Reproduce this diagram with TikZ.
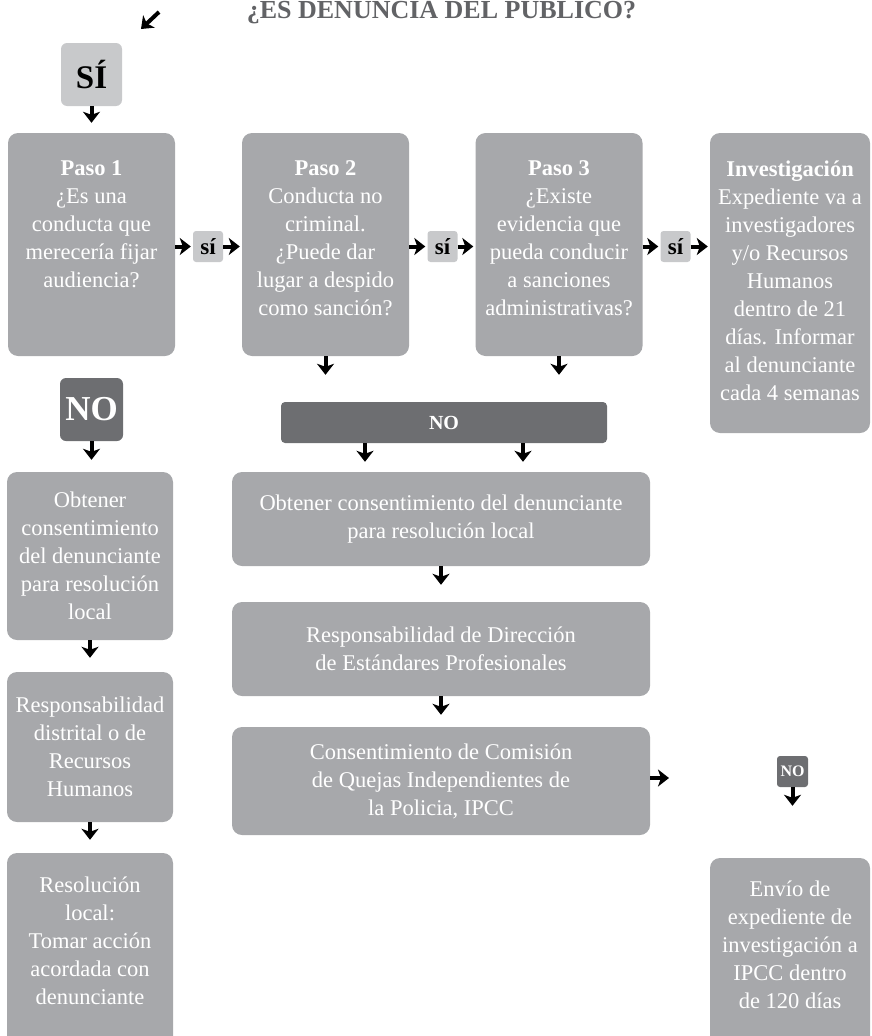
\documentclass[tikz,border=0pt]{standalone}
\usepackage{fontspec}
\setmainfont{Liberation Serif}
\usetikzlibrary{arrows.meta,calc}

\definecolor{boxgray}{RGB}{167,168,171}
\definecolor{sigray}{RGB}{200,201,203}
\definecolor{nogray}{RGB}{109,110,113}
\definecolor{titlegray}{RGB}{98,99,102}

\newcommand{\boxfont}{\fontsize{22.5}{28}\selectfont}
\newcommand{\stepcontent}[4]{\parbox[c][#2][t]{#1}{\centering\vspace*{#3}#4}}

\tikzset{
  stepbox/.style={fill=boxgray, rounded corners=10pt, inner sep=0pt, text=white, font=\boxfont, align=center},
  sitag/.style={fill=sigray, rounded corners=3pt, minimum width=30pt, minimum height=31pt, inner sep=0pt, font=\fontsize{23}{24}\selectfont\bfseries},
  notag/.style={fill=nogray, inner sep=0pt, text=white, font=\bfseries},
  arr/.style={-{Stealth[length=11pt,width=17pt,inset=3pt]}, line width=4pt}
}

\begin{document}
\begin{tikzpicture}[x=1pt,y=1pt,yscale=-1,xscale=1]
        \useasboundingbox (0,0) rectangle (871,1036);
        \clip (0,0) rectangle (871,1036);

        % cabecera
        \node (titulo) at (441.5,19) [anchor=base, text=titlegray, font=\fontsize{26}{30}\selectfont\bfseries] {¿ES DENUNCIA DEL PÚBLICO?};
        \coordinate (flechaA) at (159,12);
        \coordinate (flechaB) at (141,29);
        \node (si) at (91.5,74.5) [sitag, rounded corners=6pt, minimum width=61pt, minimum height=63pt, font=\fontsize{33}{36}\selectfont\bfseries] {SÍ};

        % pasos
        \node (paso1) at (91.5,244.5) [stepbox] {\stepcontent{167pt}{223pt}{28pt}{\textbf{Paso 1}\\¿Es una\\conducta que\\merecería fijar\\audiencia?}};
        \node (si1) at (208,246.5) [sitag] {sí};
        \node (paso2) at (325.5,244.5) [stepbox] {\stepcontent{167pt}{223pt}{28pt}{\textbf{Paso 2}\\Conducta no\\criminal.\\¿Puede dar\\lugar a despido\\como sanción?}};
        \node (si2) at (442.5,246.5) [sitag] {sí};
        \node (paso3) at (559,244.5) [stepbox] {\stepcontent{167pt}{223pt}{28pt}{\textbf{Paso 3}\\¿Existe\\evidencia que\\pueda conducir\\a sanciones\\administrativas?}};
        \node (si3) at (675.5,246.5) [sitag] {sí};
        \node (invest) at (790,283) [stepbox] {\stepcontent{160pt}{300pt}{28pt}{\textbf{Investigación}\\Expediente va a\\investigadores\\y/o Recursos\\Humanos\\dentro de 21\\días. Informar\\al denunciante\\cada 4 semanas}};

        % respuestas no
        \node (no1) at (91.5,409.5) [notag, rounded corners=6pt, minimum width=63pt, minimum height=63pt, font=\fontsize{35}{38}\selectfont\bfseries] {NO};
        \node (nobar) at (444,422.5) [notag, rounded corners=4pt, minimum width=326pt, minimum height=41pt, font=\fontsize{20}{22}\selectfont\bfseries] {NO};
        \coordinate (noizq) at ($(nobar.south)+(-79,0)$);
        \coordinate (noder) at ($(nobar.south)+(79,0)$);

        \node (obt1) at (90,556) [stepbox, minimum width=166pt, minimum height=168pt] {Obtener\\consentimiento\\del denunciante\\para resolución\\local};
        \node (resp1) at (90,747) [stepbox, minimum width=166pt, minimum height=150pt] {Responsabilidad\\distrital o de\\Recursos\\Humanos};
        \node (res1) at (90,953) [stepbox] {\stepcontent{166pt}{200pt}{24pt}{Resolución\\local:\\Tomar acción\\acordada con\\denunciante}};

        \node (obt2) at (441,519) [stepbox, minimum width=418pt, minimum height=94pt] {Obtener consentimiento del denunciante\\para resolución local};
        \node (resp2) at (441,649) [stepbox, minimum width=418pt, minimum height=94pt] {Responsabilidad de Dirección\\de Estándares Profesionales};
        \node (cons) at (441,781) [stepbox, minimum width=418pt, minimum height=108pt] {Consentimiento de Comisión\\de Quejas Independientes de\\la Policia, IPCC};
        \coordinate (consfin) at (669,778);

        \node (nocons) at (792.5,771.5) [notag, rounded corners=3pt, minimum width=31pt, minimum height=31pt, font=\fontsize{16}{18}\selectfont\bfseries] {NO};
        \node (envio) at (790,958) [stepbox] {\stepcontent{160pt}{200pt}{23pt}{Envío de\\expediente de\\investigación a\\IPCC dentro\\de 120 días}};

        % flechas
        \draw [arr] (flechaA) -- (flechaB);
        \draw [arr, shorten >=10pt] (si.south) -- (si.south |- paso1.north);
        \draw [arr, shorten >=2pt] (paso1.east |- si1.west) -- (si1.west);
        \draw [arr, shorten >=2pt] (si1.east) -- (paso2.west |- si1.east);
        \draw [arr, shorten >=2pt] (paso2.east |- si2.west) -- (si2.west);
        \draw [arr, shorten >=2pt] (si2.east) -- (paso3.west |- si2.east);
        \draw [arr, shorten >=2pt] (paso3.east |- si3.west) -- (si3.west);
        \draw [arr, shorten >=2pt] (si3.east) -- (invest.west |- si3.east);
        \draw [arr, shorten >=27pt] (paso2.south) -- (paso2.south |- nobar.north);
        \draw [arr, shorten >=27pt] (paso3.south) -- (paso3.south |- nobar.north);
        \draw [arr, shorten >=12pt] (no1.south) -- (no1.south |- obt1.north);
        \draw [arr, shorten >=10pt] (noizq) -- (noizq |- obt2.north);
        \draw [arr, shorten >=10pt] (noder) -- (noder |- obt2.north);
        \draw [arr, shorten >=14pt] (obt1.south) -- (resp1.north);
        \draw [arr, shorten >=13pt] (resp1.south) -- (res1.north);
        \draw [arr, shorten >=17pt] (obt2.south) -- (resp2.north);
        \draw [arr, shorten >=12pt] (resp2.south) -- (cons.north);
        \draw [arr] (cons.east |- consfin) -- (consfin);
        \draw [arr, shorten >=52pt] (nocons.south) -- (nocons.south |- envio.north);
\end{tikzpicture}
\end{document}
